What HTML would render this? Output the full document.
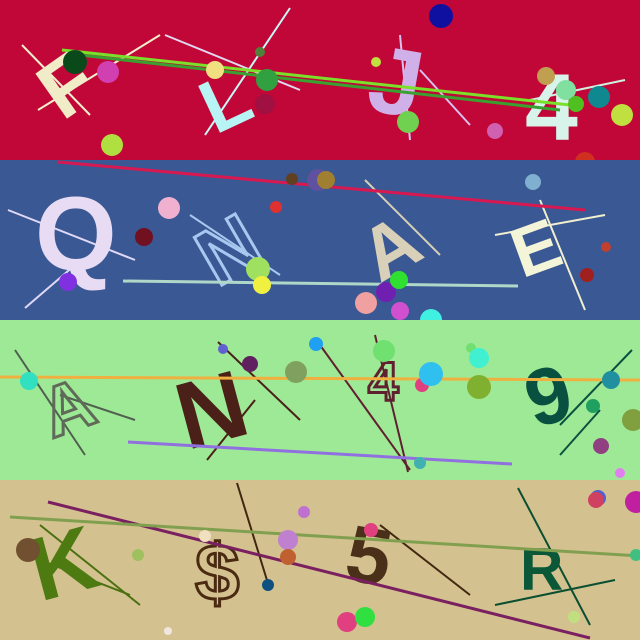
<!DOCTYPE html>
<html><head><meta charset="utf-8"><style>
html,body{margin:0;padding:0;width:640px;height:640px;overflow:hidden}
svg{display:block}
text{font-family:"Liberation Sans",sans-serif;font-weight:bold}
</style></head><body>
<svg width="640" height="640" viewBox="0 0 640 640">
<g>
<rect x="0" y="0" width="640" height="160" fill="#c10737"/>
<line x1="22" y1="45" x2="90" y2="115" stroke="#f2eecc" stroke-width="2"/>
<line x1="38" y1="110" x2="160" y2="35" stroke="#f2eecc" stroke-width="2"/>
<line x1="165" y1="35" x2="300" y2="90" stroke="#e0d8f0" stroke-width="2"/>
<line x1="205" y1="135" x2="290" y2="8" stroke="#c8f8f8" stroke-width="2"/>
<line x1="420" y1="70" x2="470" y2="125" stroke="#d8c0f0" stroke-width="2"/>
<line x1="400" y1="35" x2="410" y2="140" stroke="#d8c0f0" stroke-width="2"/>
<line x1="530" y1="100" x2="625" y2="80" stroke="#d0f0e0" stroke-width="2"/>
<text x="40" y="110" font-size="80" fill="#f0ecc8" transform="rotate(-35 70 80)">F</text>
<text x="200" y="125" font-size="75" fill="#b8f4f4" transform="rotate(-25 230 95)">L</text>
<text x="370" y="115" font-size="95" fill="#d0b0e8" transform="rotate(10 400 80)">J</text>
<text x="525" y="140" font-size="95" fill="#d8f4ea">4</text>
<line x1="62" y1="50" x2="570" y2="105" stroke="#7ae02a" stroke-width="3"/>
<line x1="80" y1="55" x2="560" y2="110" stroke="#3aa030" stroke-width="3"/>
<circle cx="75" cy="62" r="12" fill="#0a4a1a"/>
<circle cx="108" cy="72" r="11" fill="#d040b0"/>
<circle cx="112" cy="145" r="11" fill="#b0e040"/>
<circle cx="215" cy="70" r="9" fill="#f0e080"/>
<circle cx="260" cy="52" r="5" fill="#50803a"/>
<circle cx="267" cy="80" r="11" fill="#30a040"/>
<circle cx="265" cy="104" r="10" fill="#a01040"/>
<circle cx="376" cy="62" r="5" fill="#c0e040"/>
<circle cx="441" cy="16" r="12" fill="#1010a0"/>
<circle cx="408" cy="122" r="11" fill="#70d050"/>
<circle cx="495" cy="131" r="8" fill="#d060b0"/>
<circle cx="546" cy="76" r="9" fill="#c0a050"/>
<circle cx="566" cy="90" r="10" fill="#80e0a0"/>
<circle cx="576" cy="104" r="8" fill="#50c020"/>
<circle cx="599" cy="97" r="11" fill="#108890"/>
<circle cx="622" cy="115" r="11" fill="#c0e040"/>
<circle cx="585" cy="162" r="10" fill="#d03020"/>
</g>
<g>
<rect x="0" y="160" width="640" height="160" fill="#3a5893"/>
<line x1="8" y1="210" x2="135" y2="260" stroke="#e0d8f8" stroke-width="2"/>
<line x1="25" y1="308" x2="75" y2="265" stroke="#e0d8f8" stroke-width="2"/>
<line x1="190" y1="215" x2="280" y2="275" stroke="#a8c8f0" stroke-width="2"/>
<line x1="365" y1="180" x2="440" y2="255" stroke="#d8d0b8" stroke-width="2"/>
<line x1="540" y1="200" x2="585" y2="310" stroke="#f0f0d0" stroke-width="2"/>
<line x1="495" y1="235" x2="605" y2="215" stroke="#f0f0d0" stroke-width="2"/>
<text x="35" y="270" font-size="105" fill="#e8dcf4">Q</text>
<text x="195" y="275" font-size="80" fill="none" stroke="#a8c8f0" stroke-width="3" transform="rotate(-30 230 240)">N</text>
<text x="360" y="270" font-size="75" fill="#d8d0b8" transform="rotate(-30 395 240)">A</text>
<text x="510" y="270" font-size="70" fill="#f4f4d8" transform="rotate(-20 540 240)">E</text>
<line x1="58" y1="162" x2="585" y2="210" stroke="#d81850" stroke-width="3"/>
<line x1="123" y1="281" x2="518" y2="286" stroke="#b0d8c8" stroke-width="3"/>
<circle cx="169" cy="208" r="11" fill="#f0b0d0"/>
<circle cx="144" cy="237" r="9" fill="#701020"/>
<circle cx="68" cy="282" r="9" fill="#8030e0"/>
<circle cx="276" cy="207" r="6" fill="#e03030"/>
<circle cx="292" cy="179" r="6" fill="#604020"/>
<circle cx="318" cy="180" r="11" fill="#6050a0"/>
<circle cx="326" cy="180" r="9" fill="#a08030"/>
<circle cx="258" cy="269" r="12" fill="#a0e060"/>
<circle cx="262" cy="285" r="9" fill="#f0f040"/>
<circle cx="366" cy="303" r="11" fill="#f0a0a0"/>
<circle cx="386" cy="292" r="10" fill="#7020b0"/>
<circle cx="399" cy="280" r="9" fill="#30e030"/>
<circle cx="400" cy="311" r="9" fill="#d050d0"/>
<circle cx="431" cy="320" r="11" fill="#40f0e0"/>
<circle cx="533" cy="182" r="8" fill="#80b0d0"/>
<circle cx="606" cy="247" r="5" fill="#c04030"/>
<circle cx="587" cy="275" r="7" fill="#a02020"/>
</g>
<g>
<rect x="0" y="320" width="640" height="160" fill="#9ee995"/>
<line x1="15" y1="350" x2="85" y2="455" stroke="#506050" stroke-width="2"/>
<line x1="60" y1="395" x2="135" y2="420" stroke="#506050" stroke-width="2"/>
<line x1="218" y1="342" x2="300" y2="420" stroke="#4a2018" stroke-width="2"/>
<line x1="207" y1="460" x2="255" y2="400" stroke="#4a2018" stroke-width="2"/>
<line x1="320" y1="345" x2="410" y2="470" stroke="#602030" stroke-width="2"/>
<line x1="375" y1="335" x2="408" y2="472" stroke="#602030" stroke-width="2"/>
<line x1="560" y1="425" x2="632" y2="350" stroke="#0a5040" stroke-width="2"/>
<line x1="560" y1="455" x2="600" y2="410" stroke="#0a5040" stroke-width="2"/>
<text x="40" y="430" font-size="70" fill="none" stroke="#606a58" stroke-width="3" transform="rotate(-20 70 400)">A</text>
<text x="175" y="440" font-size="95" fill="#4a2018" transform="rotate(-15 220 400)">N</text>
<text x="368" y="400" font-size="55" fill="none" stroke="#602030" stroke-width="3">4</text>
<text x="525" y="420" font-size="80" fill="#0a5040" transform="rotate(-15 560 390)">9</text>
<line x1="0" y1="377" x2="640" y2="380" stroke="#f0b040" stroke-width="3"/>
<line x1="128" y1="442" x2="512" y2="464" stroke="#9070e0" stroke-width="3"/>
<circle cx="29" cy="381" r="9" fill="#30e0c0"/>
<circle cx="223" cy="349" r="5" fill="#6060d0"/>
<circle cx="250" cy="364" r="8" fill="#602060"/>
<circle cx="296" cy="372" r="11" fill="#80a060"/>
<circle cx="316" cy="344" r="7" fill="#20a0f0"/>
<circle cx="384" cy="351" r="11" fill="#70e070"/>
<circle cx="422" cy="385" r="7" fill="#e04080"/>
<circle cx="431" cy="374" r="12" fill="#30c0f0"/>
<circle cx="471" cy="348" r="5" fill="#70e070"/>
<circle cx="479" cy="358" r="10" fill="#40f0d0"/>
<circle cx="479" cy="387" r="12" fill="#80b030"/>
<circle cx="420" cy="463" r="6" fill="#40b0b0"/>
<circle cx="611" cy="380" r="9" fill="#2090a0"/>
<circle cx="593" cy="406" r="7" fill="#20a060"/>
<circle cx="601" cy="446" r="8" fill="#904080"/>
<circle cx="633" cy="420" r="11" fill="#80a040"/>
</g>
<g>
<rect x="0" y="480" width="640" height="160" fill="#d4c190"/>
<line x1="40" y1="525" x2="140" y2="605" stroke="#4a7010" stroke-width="2"/>
<line x1="40" y1="560" x2="130" y2="595" stroke="#4a7010" stroke-width="2"/>
<line x1="237" y1="483" x2="270" y2="590" stroke="#402810" stroke-width="2"/>
<line x1="380" y1="525" x2="470" y2="595" stroke="#402810" stroke-width="2"/>
<line x1="518" y1="488" x2="590" y2="625" stroke="#0a5030" stroke-width="2"/>
<line x1="495" y1="605" x2="615" y2="580" stroke="#0a5030" stroke-width="2"/>
<text x="30" y="595" font-size="90" fill="#4e7a12" transform="rotate(-15 60 560)">K</text>
<text x="195" y="600" font-size="80" fill="none" stroke="#4a2a10" stroke-width="3">$</text>
<text x="348" y="585" font-size="80" fill="#4a3018" transform="rotate(10 380 550)">5</text>
<text x="520" y="590" font-size="60" fill="#0a5838">R</text>
<line x1="48" y1="502" x2="590" y2="638" stroke="#7a2060" stroke-width="3"/>
<line x1="10" y1="517" x2="640" y2="556" stroke="#80a050" stroke-width="3"/>
<circle cx="28" cy="550" r="12" fill="#705030"/>
<circle cx="138" cy="555" r="6" fill="#a0c060"/>
<circle cx="205" cy="536" r="6" fill="#f0e0c0"/>
<circle cx="288" cy="540" r="10" fill="#c080d0"/>
<circle cx="288" cy="557" r="8" fill="#c06030"/>
<circle cx="268" cy="585" r="6" fill="#105080"/>
<circle cx="304" cy="512" r="6" fill="#c070d0"/>
<circle cx="371" cy="530" r="7" fill="#e04080"/>
<circle cx="168" cy="631" r="4" fill="#f0e8e0"/>
<circle cx="347" cy="622" r="10" fill="#e04080"/>
<circle cx="365" cy="617" r="10" fill="#30e040"/>
<circle cx="598" cy="498" r="8" fill="#5060d0"/>
<circle cx="596" cy="500" r="8" fill="#d04060"/>
<circle cx="620" cy="473" r="5" fill="#e080f0"/>
<circle cx="636" cy="502" r="11" fill="#c020a0"/>
<circle cx="636" cy="555" r="6" fill="#40c080"/>
<circle cx="574" cy="617" r="6" fill="#c0e080"/>
</g>
</svg>
</body></html>
